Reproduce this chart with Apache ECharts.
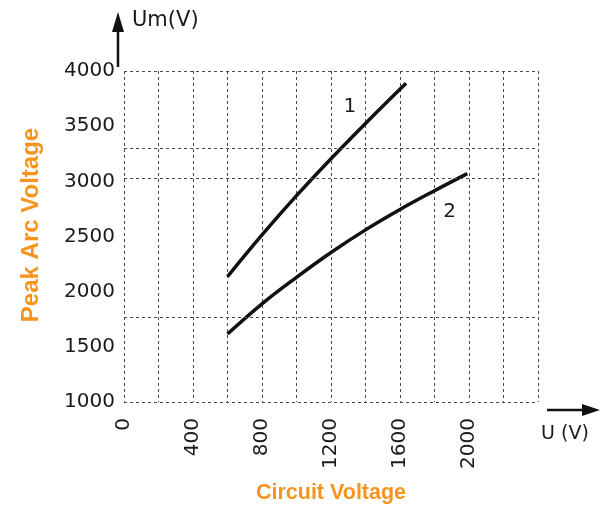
<!DOCTYPE html>
<html>
<head>
<meta charset="utf-8">
<script src="https://cdn.jsdelivr.net/npm/echarts@6/dist/echarts.min.js"></script>
<style>
html,body{margin:0;padding:0;background:#fff;}
#chart{width:605px;height:510px;}
</style>
</head>
<body>
<div id="chart"></div>
<script>
// ---- data ----
var curve1 = [[600,2136],[800,2514],[1000,2870],[1200,3205],[1400,3525],[1635,3889]];
var curve2 = [[600,1616],[800,1890],[1000,2130],[1200,2355],[1400,2560],[1600,2745],[1800,2915],[1990,3070]];
var curveLabels = [{name:'1', coord:[1310,3674]}, {name:'2', coord:[1888,2722]}];
var xTickLabels = [0,400,800,1200,1600,2000];
var yTicks = [1000,1500,2000,2500,3000,3500,4000];
var hGridValues = [4000,3300,3030,1770,1000];

var orange = '#F7941E';
var ink = '#1a1a1a';
var gridStyle = {color:'#4a4a4a', width:1, type:[3,3]};

var chart = echarts.init(document.getElementById('chart'));
chart.setOption({
  animation:false,
  backgroundColor:'#fff',
  grid:{left:124, right:67, top:71, bottom:108},
  xAxis:{
    type:'value', min:0, max:2400, interval:200,
    axisLine:{show:false}, axisTick:{show:false},
    splitLine:{show:true, lineStyle:gridStyle},
    axisLabel:{
      rotate:90, margin:16, fontSize:20, color:ink,
      fontFamily:'DejaVu Sans',
      formatter:function(v){ return xTickLabels.indexOf(v)>=0 ? String(v) : ''; }
    }
  },
  yAxis:{
    type:'value', min:yTicks[0], max:yTicks[yTicks.length-1], interval:500,
    axisLine:{show:false}, axisTick:{show:false},
    splitLine:{show:false},
    axisLabel:{margin:9, fontSize:20, color:ink, fontFamily:'DejaVu Sans',
      formatter:function(v){ return String(v); }}
  },
  series:[
    {
      type:'line', data:curve1, smooth:0.4, symbol:'none',
      lineStyle:{color:'#111', width:3.5},
      markLine:{
        silent:true, symbol:'none', label:{show:false},
        lineStyle:gridStyle,
        data:hGridValues.map(function(v){return {yAxis:v};})
      },
      markPoint:{
        symbol:'circle', symbolSize:1, itemStyle:{color:'rgba(0,0,0,0)'},
        label:{show:true, formatter:'{b}', fontSize:20, color:ink, fontFamily:'DejaVu Sans'},
        data:[{name:curveLabels[0].name, coord:curveLabels[0].coord}]
      }
    },
    {
      type:'line', data:curve2, smooth:0.4, symbol:'none',
      lineStyle:{color:'#111', width:3.5},
      markPoint:{
        symbol:'circle', symbolSize:1, itemStyle:{color:'rgba(0,0,0,0)'},
        label:{show:true, formatter:'{b}', fontSize:20, color:ink, fontFamily:'DejaVu Sans'},
        data:[{name:curveLabels[1].name, coord:curveLabels[1].coord}]
      }
    }
  ],
  graphic:[
    // y arrow
    {type:'line', shape:{x1:118,y1:67,x2:118,y2:28}, style:{stroke:'#111', lineWidth:2.5}},
    {type:'polygon', shape:{points:[[118,12],[112,32],[124,32]]}, style:{fill:'#111'}},
    {type:'text', left:132, top:10, style:{text:'Um(V)', fontSize:21, fill:ink, fontFamily:'DejaVu Sans'}},
    // x arrow
    {type:'line', shape:{x1:547,y1:410,x2:588,y2:410}, style:{stroke:'#111', lineWidth:2.5}},
    {type:'polygon', shape:{points:[[600,410],[582,404],[582,416]]}, style:{fill:'#111'}},
    {type:'text', x:565, y:434, style:{text:'U (V)', fontSize:19, fill:ink, fontFamily:'DejaVu Sans', align:'center', verticalAlign:'middle'}},
    // titles
    {type:'text', x:31, y:225, rotation:Math.PI/2,
     style:{text:'Peak Arc Voltage', fontSize:24, fontWeight:'bold', fill:orange,
            fontFamily:'"Liberation Sans",Arial,sans-serif', align:'center', verticalAlign:'middle'}},
    {type:'text', x:331, y:493,
     style:{text:'Circuit Voltage', fontSize:21.5, fontWeight:'bold', fill:orange,
            fontFamily:'"Liberation Sans",Arial,sans-serif', align:'center', verticalAlign:'middle'}}
  ]
});
</script>
</body>
</html>
